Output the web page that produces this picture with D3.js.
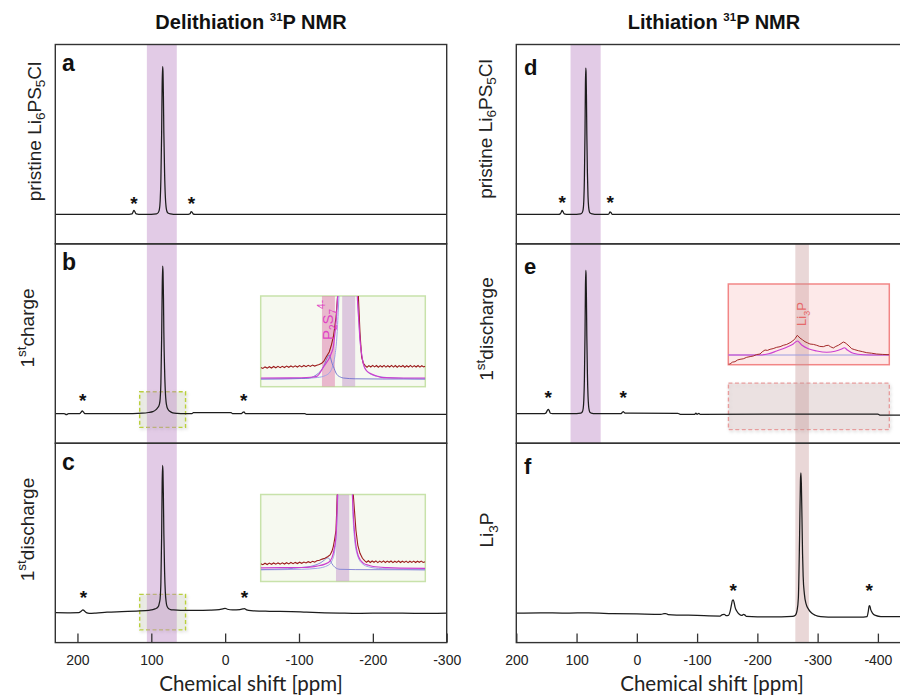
<!DOCTYPE html>
<html><head><meta charset="utf-8">
<script src="https://cdn.jsdelivr.net/npm/d3@7"></script>
<style>body{margin:0;background:#fff;}svg{display:block;}</style>
</head><body>
<script>
// ---------------- DATA ----------------
const ticksLeft = [200, 100, 0, -100, -200, -300];
const ticksRight = [200, 100, 0, -100, -200, -300, -400];
const titleLeft = "Delithiation";
const titleRight = "Lithiation";
const axisTitle = "Chemical shift [ppm]";
const panelLetters = ["a", "b", "c", "d", "e", "f"];

// spectra: [ppm, intensity]  (main peak ~100)
const specA = [[230,0],[200,0],[160,0],[130,0],[126,0.3],[124.5,1.8],[123.5,2.7],[122.5,2.0],[120.5,0.3],[117,0],[100,0],[93,0.3],[90.5,1.2],[89,3.5],[88,9],[87,24],[86,55],[85.3,88],[84.7,100],[84.2,97],[83.6,80],[83,55],[82,28],[81,12],[80,5],[79,2.2],[77.5,0.8],[74,0.2],[70,0],[50,0],[47.5,0.4],[46,1.8],[45,1.6],[43.5,0.3],[41,0],[-300,0]];
const specB = [[230,0],[218,0],[215,-0.6],[212,0],[197,0],[195,1.0],[193.5,1.9],[192,1.2],[190,0],[125,0],[112,0.3],[104,0.8],[98,1.4],[94,2.6],[91.5,4],[90,5],[89,6.5],[88,10],[87,21],[86,51],[85.2,86],[84.6,100],[84.1,96],[83.5,78],[83,55],[82,30],[81,15],[80,8],[79,5],[77.5,3],[75,1.6],[71,0.6],[65,0.2],[55,0],[45,0],[43,0.7],[-8,0.7],[-10,0],[-22,0],[-24,0.9],[-25.5,1.2],[-27.5,0],[-108,0],[-110,-0.5],[-300,-0.5]];
const specC = [[230,0.3],[210,0.2],[198,0.3],[195,1.3],[192.5,2.2],[190.5,1.4],[188,0.3],[184,-0.2],[175,0],[160,0.6],[140,1.0],[120,1.4],[108,1.6],[100,2.1],[95,2.8],[92,3.6],[90,5],[89,7],[88,10],[87,21],[86,52],[85.3,88],[84.7,100],[84.2,96],[83.6,78],[83,54],[82,28],[81,14],[80,8],[79,5],[77,3.2],[74,2.4],[70,2.1],[60,1.8],[40,1.8],[20,2.0],[8,2.4],[3,2.9],[0,3.2],[-3,2.6],[-10,2.2],[-20,2.4],[-24,2.8],[-26,3.0],[-29,2.2],[-35,1.6],[-60,1.2],[-90,1.0],[-110,0.6],[-135,0.2],[-155,0],[-180,-0.2],[-220,0],[-260,-0.2],[-300,0]];
const specD = [[200,0],[130,0],[127,0.3],[125,1.8],[124,2.7],[123,2.2],[120.5,0.3],[117,0],[100,0],[93,0.3],[90.5,1.2],[89,3.5],[88,9],[87,24],[86,55],[85.3,88],[84.7,99],[84.2,96],[83.6,80],[83,55],[82,28],[81,12],[80,5],[79,2.2],[77.5,0.8],[74,0.2],[70,0],[48,0],[46,0.5],[44.5,1.6],[43,1.2],[41,0],[-440,0]];
const specE = [[200,0],[155,0],[151,0.4],[148.5,2.2],[147,2.9],[145.5,2.2],[143.5,0.3],[140,0],[100,0],[93,0.3],[90.5,1.2],[89,3.5],[88,9],[87,23],[86,53],[85.3,85],[84.7,97],[84.2,94],[83.6,77],[83,53],[82,27],[81,12],[80,5],[79,2.2],[77.5,0.8],[74,0.2],[70,0],[26,0],[24,1.0],[22.5,1.4],[21,0.8],[18,0.3],[10,0.3],[-68,0.2],[-72,-0.4],[-96,-0.4],[-98,0.3],[-100,-0.4],[-103,0.2],[-105,-0.4],[-400,-0.3],[-403,-0.9],[-440,-0.9]];
const specF = [[200,0],[160,0.2],[120,0],[80,0.1],[40,-0.3],[0,-0.6],[-40,-0.9],[-45,-0.4],[-48,-0.3],[-52,-1.0],[-100,-1.6],[-138,-2.0],[-142,-1.0],[-145,-0.8],[-148,-1.7],[-152,-1.5],[-155,1.5],[-157,5.5],[-158.5,8.5],[-160,9.0],[-161.5,7],[-163,4],[-166,1.2],[-170,-0.8],[-174,-1.6],[-177,-0.9],[-179,-1.2],[-182,-2.3],[-200,-2.6],[-240,-2.6],[-258,-2.3],[-263,-1.5],[-266,2],[-268,10],[-270,50],[-271.5,90],[-272.3,95],[-273,88],[-274,65],[-275,40],[-276,25],[-278,13],[-281,6],[-285,2.5],[-290,0],[-296,-1.5],[-305,-2.4],[-330,-2.8],[-370,-2.8],[-382,-2.4],[-384,1.0],[-385.5,4.8],[-386.5,5.0],[-388,2.5],[-391,0],[-396,-1.6],[-405,-2.4],[-440,-2.4]];

// spinning sideband markers: [ppm, height]
const starsA = [[123.5, 10], [45.5, 10]];
const starsB = [[193, 11.5], [-25, 11.5]];
const starsC = [[192, 13.5], [-26, 13.5]];
const starsD = [[124, 10.5], [44, 10.5]];
const starsE = [[147, 13.5], [22.5, 13.5]];
const starsF = [[-160, 17.8], [-385.7, 17.8]];

// highlighted shift ranges [ppm from, ppm to]
const bandPS5Cl_left = [106, 65.5];
const bandPS5Cl_right = [110, 60];
const bandLi3P = [-263, -285.5];
// zoomed regions [ppm from, ppm to, value top, value bottom]
const zoomB = [115.7, 53.6, 14.8, -9.3];
const zoomC = [115.7, 53.6, 12.7, -11.4];
const zoomE = [-152, -419, 20.7, -10.8];

// insets (ppm, intensity)
const insetBExp = [[115,10.5],[114.2,9.6],[113.4,11.1],[112.6,9.9],[111.8,11.3],[111,10.0],[110.2,11.5],[109.4,10.2],[108.6,11.6],[107.8,10.3],[107,11.7],[106.2,10.5],[105.4,11.9],[104.6,10.7],[103.8,12.0],[103,10.8],[102.2,12.2],[101.4,11.0],[100.6,12.4],[99.8,11.1],[99,12.5],[98.2,11.3],[97.4,12.7],[96.6,11.6],[95.8,12.9],[95,11.9],[94.2,12.8],[93.3,13.6],[92.4,14.7],[91.6,16.8],[90.8,20.7],[89.6,26],[88.8,33],[88.1,41],[87.6,50],[87.1,61],[86.5,82],[85.8,120],[83,300],[80,140],[78.8,82],[78.2,45],[77.6,21],[77.0,15],[76.3,12.4],[75.6,10.8],[74.9,12.4],[74.2,11.0],[73.5,12.6],[72.8,11.1],[72.1,12.5],[71.4,10.8],[70.7,12.4],[70,11.0],[69.3,12.6],[68.6,10.9],[67.9,12.3],[67.2,11.0],[66.5,12.6],[65.8,10.9],[65.1,12.5],[64.4,10.8],[63.7,12.4],[63,11.1],[62.3,12.5],[61.6,10.8],[60.9,12.3],[60.2,11.0],[59.5,12.6],[58.8,10.9],[58.1,12.4],[57.4,11.0],[56.7,12.5],[56,10.9],[55.3,12.3],[54.6,11.1],[54,11.8]];
const insetBFit = [[115,0],[104,0.2],[98,0.5],[95.5,1.0],[94.2,1.6],[93.3,4],[92.4,8],[91.6,11.5],[90.8,14.7],[89.6,19.7],[88.8,25],[88.1,31],[87.6,42],[87.1,55],[86.5,81],[85.8,120],[83,300],[80,140],[79.2,82],[78.6,55],[78.2,38],[77.6,24],[77,14.7],[76,8],[74.5,4.7],[72,2],[69.6,0.3],[62,0],[54,0]];
const insetBComp1 = [[115,-1],[100,-0.5],[97,0],[95.5,1.3],[94.2,3.5],[93,6.3],[92,10],[91.2,14.7],[90.4,20],[89.6,23],[89.1,20],[88.7,16],[87.8,9.7],[87.1,5],[86.6,3],[85.5,1],[84.4,0],[80,-0.8],[70,-1],[54,-1]];
const insetBComp2 = [[115,-1],[100,-0.5],[94,0.5],[91,2.5],[89.3,6],[88.3,12],[87.5,22],[86.8,40],[86.2,70],[85.6,110],[83,300],[80,140],[79.1,82],[78.5,52],[78.1,36],[77.5,22],[76.8,13],[75.5,6.5],[73.5,3],[70,1],[62,-0.5],[54,-1]];
const insetBBands = [[84.8, 80], [92.3, 87.5]];
const insetBLabel = [89.9, 58];

const insetCExp = [[115,5.5],[114.2,4.6],[113.4,6.1],[112.6,4.8],[111.8,6.2],[111,5.0],[110.2,6.3],[109.4,5.1],[108.6,6.4],[107.8,5.2],[107,6.5],[106.2,5.3],[105.4,6.6],[104.6,5.4],[103.8,6.8],[103,5.6],[102.2,6.9],[101.4,5.8],[100.6,7.1],[99.8,6.0],[99,7.3],[98.2,6.3],[97.4,7.6],[96.6,6.7],[95.8,8.0],[95,7.2],[94.2,8.5],[93.2,9.0],[92.2,10.2],[91.2,11],[90.2,12.6],[89.3,14.3],[88.6,18],[88.1,22.7],[87.6,30],[87.1,39],[86.6,75],[86,120],[84,300],[81.5,130],[80.7,75],[79.7,39],[79,24],[78.2,16],[77.3,11],[76.5,8.6],[75.8,7.0],[75.1,8.5],[74.4,6.8],[73.7,8.3],[73,7.0],[72.3,8.4],[71.6,6.7],[70.9,8.2],[70.2,6.9],[69.5,8.4],[68.8,6.8],[68.1,8.2],[67.4,7.0],[66.7,8.3],[66,6.7],[65.3,8.1],[64.6,6.9],[63.9,8.3],[63.2,6.8],[62.5,8.1],[61.8,6.9],[61.1,8.2],[60.4,6.7],[59.7,8.1],[59,6.9],[58.3,8.2],[57.6,6.8],[56.9,8.1],[56.2,7.0],[55.5,8.2],[54.8,6.9],[54,7.6]];
const insetCFit = [[115,1.5],[100,1.8],[96,2.4],[94.2,3.2],[91.2,5.2],[89.3,8.2],[88.1,16],[87.1,33],[86.5,75],[86,120],[84,300],[81.5,130],[81,75],[80.1,33],[78.8,13],[77,6.2],[75,4],[73.3,2.8],[68,1.6],[63.4,1.2],[54,1.0]];
const insetCComp1 = [[115,-0.3],[105,0.5],[102.9,1],[99,2],[96.7,2.8],[94.5,4.5],[93,6.2],[91.5,9],[90.6,11],[90,11.5],[89.4,9.5],[88.7,6],[87.5,2],[85.6,0],[80,-0.3],[54,-0.5]];
const insetCComp2 = [[115,-0.5],[100,0],[94,1],[90,4],[88.5,9],[87.5,20],[86.8,45],[86.2,90],[84,300],[81.5,130],[81,70],[80.2,30],[79,13],[77.3,5.5],[75,2.5],[70,0.6],[54,-0.5]];
const insetCBands = [[87.1, 82.2]];

const insetEExp = [[-212,-9.3],[-213.5,-9.0],[-215.5,-7.2],[-217.8,-6.7],[-220,-5.0],[-222.2,-4.3],[-225,-3.8],[-228,-2.3],[-231,-1.6],[-233.7,-1.0],[-236.5,0.4],[-239.6,1.0],[-241.5,3.2],[-243.9,5],[-246,4.6],[-248.3,5.7],[-251,6.4],[-254.1,7.7],[-257,8.3],[-259.8,9.7],[-262.8,10.6],[-265.7,12.3],[-268,14],[-270,16.3],[-272,19.7],[-274.3,17],[-276.5,15.2],[-278.7,13.3],[-281,12.1],[-283,11],[-286,10.6],[-288.9,9.7],[-291.5,8.6],[-294.6,8.3],[-297,9.4],[-299,9.7],[-301,8.2],[-303.3,7],[-305.5,8.6],[-307.7,9.7],[-310,11.4],[-312,13],[-313.5,12.3],[-315,11],[-317,9.0],[-319.3,6.3],[-322,5.3],[-325,4.3],[-328.5,3.4],[-332.4,2.3],[-336.5,1.8],[-341,1],[-346,0.6],[-352,0.3]];
const insetEFit = [[-212,0],[-239.6,0],[-247,1.2],[-254.1,4],[-262.8,7.7],[-268.5,11],[-272,14],[-275.8,10],[-281.6,6.3],[-288.9,4],[-297.6,2.7],[-304.8,3.7],[-310.6,6],[-312.9,7.3],[-315.5,5],[-320.7,1.7],[-329.4,0.3],[-340,0],[-352,0]];
const insetEBase = [[-212,0],[-352,0]];
const insetELabel = [-276, 41];

// ---------------- LAYOUT ----------------
const svg = d3.select("body").append("svg").attr("width", 900).attr("height", 698)
  .style("font-family", "'Liberation Sans', Arial, sans-serif");
const defs = svg.append("defs");
const sh = defs.append("filter").attr("id", "shadow").attr("x", "-10%").attr("y", "-10%").attr("width", "130%").attr("height", "140%");
sh.append("feDropShadow").attr("dx", 1).attr("dy", 1.5).attr("stdDeviation", 1.5).attr("flood-color", "#000").attr("flood-opacity", 0.2);

const cols = [
  {x: d3.scaleLinear().domain([230, -300]).range([55.3, 446.7]), ticks: ticksLeft, x0: 55.3, x1: 446.7, tx: 251},
  {x: d3.scaleLinear().domain([200, -440]).range([516.3, 902]), ticks: ticksRight, x0: 516.3, x1: 902, tx: 712}
];
const rowTops = [44.5, 243.9, 443.3];
const rowH = 199.3;
const yOf = r => d3.scaleLinear().domain([-20, 115]).range([rowTops[r] + rowH, rowTops[r]]);
const bottomY = rowTops[2] + rowH;

const panels = [
  {c: 0, r: 0, data: specA, stars: starsA},
  {c: 0, r: 1, data: specB, stars: starsB},
  {c: 0, r: 2, data: specC, stars: starsC},
  {c: 1, r: 0, data: specD, stars: starsD},
  {c: 1, r: 1, data: specE, stars: starsE},
  {c: 1, r: 2, data: specF, stars: starsF}
];

const gBack = svg.append("g");
const gBands = svg.append("g");
const gFront = svg.append("g");

panels.forEach((p, i) => {
  const col = cols[p.c];
  defs.append("clipPath").attr("id", "clip" + i).append("rect")
    .attr("x", col.x0).attr("y", rowTops[p.r]).attr("width", col.x1 - col.x0).attr("height", rowH);
});

// dashed zoom boxes
function zoomBox(c, r, z, stroke, fill) {
  const x = cols[c].x, y = yOf(r);
  gBack.append("rect").attr("x", x(z[0])).attr("y", y(z[2]))
    .attr("width", x(z[1]) - x(z[0])).attr("height", y(z[3]) - y(z[2]))
    .attr("fill", fill).attr("stroke", stroke).attr("stroke-width", 1.4)
    .attr("stroke-dasharray", "4,2.5").attr("filter", "url(#shadow)");
}
zoomBox(0, 1, zoomB, "#b9cf3c", "rgba(205,210,185,0.3)");
zoomBox(0, 2, zoomC, "#b9cf3c", "rgba(205,210,185,0.3)");
zoomBox(1, 1, zoomE, "#e79d9d", "rgba(200,172,172,0.28)");

// insets
function inset(cfg) {
  const g = gBack.append("g");
  g.append("rect").attr("x", cfg.x).attr("y", cfg.y).attr("width", cfg.w).attr("height", cfg.h)
    .attr("fill", cfg.fill).attr("stroke", cfg.stroke).attr("stroke-width", 1.5);
  const id = "ic" + Math.round(cfg.y);
  defs.append("clipPath").attr("id", id).append("rect").attr("x", cfg.x).attr("y", cfg.y).attr("width", cfg.w).attr("height", cfg.h);
  const xs = d3.scaleLinear().domain(cfg.xd).range([cfg.x, cfg.x + cfg.w]);
  const ys = d3.scaleLinear().domain(cfg.yd).range([cfg.y + cfg.h, cfg.y]);
  const gc = gFront.append("g").attr("clip-path", `url(#${id})`);
  (cfg.bands || []).forEach(b => {
    gc.append("rect").attr("x", xs(b[0])).attr("y", cfg.y).attr("width", xs(b[1]) - xs(b[0])).attr("height", cfg.h)
      .attr("fill", b[2]);
  });
  const line = d3.line().x(d => xs(d[0])).y(d => ys(d[1]));
  cfg.curves.forEach(cv => {
    gc.append("path").attr("d", line.curve(cv.curve || d3.curveLinear)(cv.data)).attr("fill", "none")
      .attr("stroke", cv.color).attr("stroke-width", cv.w);
  });
  return {xs, ys, g: gc};
}
const iB = inset({x: 260.7, y: 296, w: 164.6, h: 90.7, xd: [115, 54], yd: [-8.7, 82], fill: "#f6f9f0", stroke: "#c8e2aa",
  bands: [[insetBBands[0][0], insetBBands[0][1], "rgba(190,140,200,0.45)"], [insetBBands[1][0], insetBBands[1][1], "rgba(220,120,170,0.5)"]],
  curves: [
    {data: insetBComp2, color: "#a3a3e6", w: 1, curve: d3.curveMonotoneX},
    {data: insetBComp1, color: "#7b7bd0", w: 1, curve: d3.curveMonotoneX},
    {data: insetBExp, color: "#9c1c1c", w: 1.1},
    {data: insetBFit, color: "#cc3fd0", w: 1.2, curve: d3.curveMonotoneX}
  ]});
const iC = inset({x: 260.7, y: 494.5, w: 164.6, h: 87, xd: [115, 54], yd: [-12.2, 74.8], fill: "#f6f9f0", stroke: "#c8e2aa",
  bands: [[insetCBands[0][0], insetCBands[0][1], "rgba(190,140,200,0.45)"]],
  curves: [
    {data: insetCComp2, color: "#a3a3e6", w: 1, curve: d3.curveMonotoneX},
    {data: insetCComp1, color: "#8a8ad6", w: 1, curve: d3.curveMonotoneX},
    {data: insetCExp, color: "#9c1c1c", w: 1.1},
    {data: insetCFit, color: "#cc3fd0", w: 1.2, curve: d3.curveMonotoneX}
  ]});
const iE = inset({x: 728.3, y: 284, w: 161, h: 80.7, xd: [-212, -352], yd: [-9.7, 71], fill: "#fde9e9", stroke: "#f28686",
  curves: [
    {data: insetEBase, color: "#9c9ce0", w: 1},
    {data: insetEFit, color: "#cc3fd0", w: 1.1, curve: d3.curveMonotoneX},
    {data: insetEExp, color: "#a42a2a", w: 1}
  ]});

// inset labels
(function () {
  const t = iB.g.append("text").attr("transform", `translate(${iB.xs(insetBLabel[0]) + 5},${iB.ys(insetBLabel[1])}) rotate(-90)`)
    .attr("text-anchor", "middle").attr("fill", "#e044c4").attr("font-size", 15);
  t.append("tspan").text("P");
  t.append("tspan").attr("font-size", 10).attr("dy", 4).text("2");
  t.append("tspan").attr("dy", -4).text("S");
  t.append("tspan").attr("font-size", 10).attr("dy", 4).text("7");
  t.append("tspan").attr("font-size", 10).attr("dy", -12).text("4-");
  const u = iE.g.append("text").attr("transform", `translate(${iE.xs(insetELabel[0]) + 4.5},${iE.ys(insetELabel[1])}) rotate(-90)`)
    .attr("text-anchor", "middle").attr("fill", "#e66a6a").attr("font-size", 13);
  u.append("tspan").text("Li");
  u.append("tspan").attr("font-size", 9).attr("dy", 4).text("3");
  u.append("tspan").attr("dy", -4).text("P");
})();

// highlight bands
function band(c, rng, r0, r1, fill) {
  const x = cols[c].x;
  gBands.append("rect").attr("x", x(rng[0])).attr("width", x(rng[1]) - x(rng[0]))
    .attr("y", rowTops[r0]).attr("height", rowTops[r1] + rowH - rowTops[r0]).attr("fill", fill);
}
band(0, bandPS5Cl_left, 0, 2, "rgba(190,140,200,0.45)");
band(1, bandPS5Cl_right, 0, 1, "rgba(190,140,200,0.45)");
band(1, bandLi3P, 1, 2, "rgba(198,150,150,0.38)");

// spectra, stars, frames
panels.forEach((p, i) => {
  const x = cols[p.c].x, y = yOf(p.r);
  const line = d3.line().x(d => x(d[0])).y(d => y(d[1])).curve(d3.curveMonotoneX);
  gFront.append("path").attr("clip-path", `url(#clip${i})`).attr("d", line(p.data))
    .attr("fill", "none").attr("stroke", "#1c1c1c").attr("stroke-width", 1.25);
  p.stars.forEach(s => {
    gFront.append("text").attr("x", x(s[0])).attr("y", y(s[1]) + 10.5).attr("text-anchor", "middle")
      .attr("font-size", 19).attr("font-weight", "bold").attr("fill", "#111").text("*");
  });
  const col = cols[p.c];
  gFront.append("rect").attr("x", col.x0).attr("y", rowTops[p.r]).attr("width", col.x1 - col.x0).attr("height", rowH)
    .attr("fill", "none").attr("stroke", "#333").attr("stroke-width", 1.4);
  gFront.append("text").attr("x", p.c === 0 ? 62 : 524).attr("y", rowTops[p.r] + (p.c === 0 ? 26.5 : 30.5))
    .attr("font-size", p.c === 0 ? 23 : 22).attr("font-weight", "bold").attr("fill", "#111").text(panelLetters[i]);
});

// bottom axes (ticks inward)
cols.forEach(col => {
  const ax = d3.axisBottom(col.x).tickValues(col.ticks).tickSize(-9).tickPadding(12).tickFormat(d => String(d));
  const g = gFront.append("g").attr("transform", `translate(0,${bottomY})`).call(ax);
  g.select(".domain").remove();
  g.selectAll(".tick line").attr("stroke", "#333").attr("stroke-width", 1.3);
  g.selectAll(".tick text").attr("font-size", 14).attr("fill", "#222")
    .attr("font-family", "'Liberation Sans', Arial, sans-serif");
  gFront.append("text").attr("x", col.tx).attr("y", 690.5).attr("text-anchor", "middle")
    .attr("font-family", "Lato, 'Open Sans', sans-serif").attr("font-size", 20.5).attr("fill", "#222").text(axisTitle);
});

// titles
[[titleLeft, 251], [titleRight, 714]].forEach(([t, cx]) => {
  const tx = gFront.append("text").attr("x", cx).attr("y", 28.5).attr("text-anchor", "middle")
    .attr("font-size", 20).attr("font-weight", "bold").attr("fill", "#111");
  tx.append("tspan").text(t + " ");
  tx.append("tspan").attr("font-size", 11.5).attr("dy", -7.5).text("31");
  tx.append("tspan").attr("dy", 7.5).text("P NMR");
});

// y labels
function ylabel(x, yc, parts) {
  const t = gFront.append("text").attr("transform", `translate(${x},${yc}) rotate(-90)`).attr("text-anchor", "middle")
    .attr("font-size", 19).attr("fill", "#222");
  let cur = 0;
  parts.forEach(([s, k]) => {
    const target = k === "sub" ? 4.5 : k === "sup" ? -8 : 0;
    const ts = t.append("tspan").attr("dy", target - cur).text(s);
    if (k) ts.attr("font-size", 13.5);
    cur = target;
  });
}
ylabel(40.5, 131.5, [["pristine Li"], ["6", "sub"], ["PS"], ["5", "sub"], ["Cl"]]);
ylabel(33.5, 328, [["1"], ["st", "sup"], ["charge"]]);
ylabel(33.5, 529.5, [["1"], ["st", "sup"], ["discharge"]]);
ylabel(491.5, 129, [["pristine Li"], ["6", "sub"], ["PS"], ["5", "sub"], ["Cl"]]);
ylabel(493, 329, [["1"], ["st", "sup"], ["discharge"]]);
ylabel(493, 530, [["Li"], ["3", "sub"], ["P"]]);
</script>
</body></html>
